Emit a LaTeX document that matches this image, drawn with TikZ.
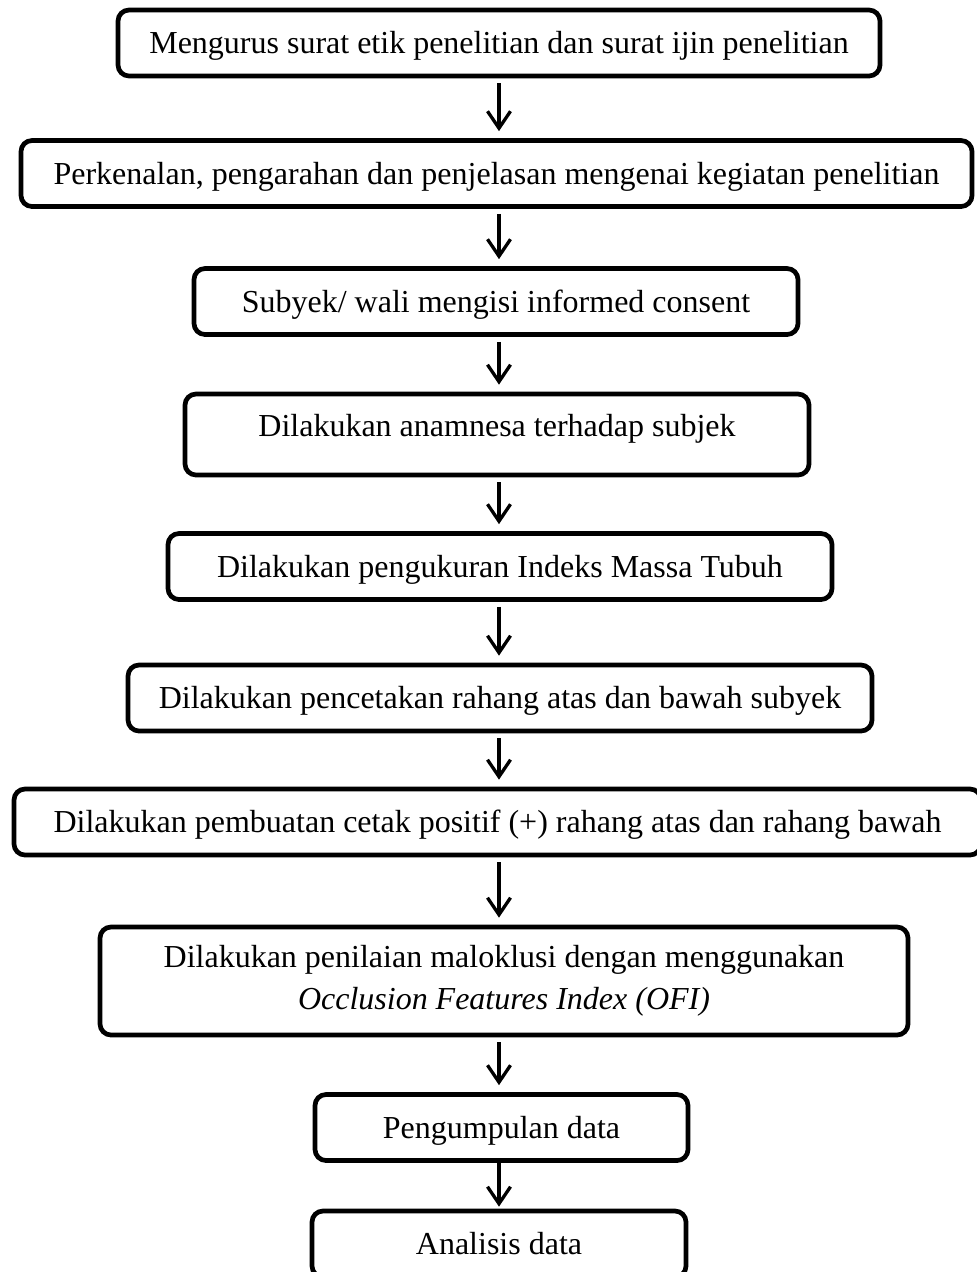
\documentclass[tikz,border=0pt]{standalone}
\usepackage{fontspec}
\setmainfont{Liberation Serif}
\usetikzlibrary{arrows.meta}

\begin{document}
\begin{tikzpicture}[x=1pt,y=-1pt,
        stepbox/.style={draw=black,line width=4.7pt,rounded corners=11pt,inner xsep=4pt,inner ysep=0pt,
            align=center,font=\fontsize{32}{42}\selectfont},
        onebox/.style={stepbox,text height=21pt,text depth=0pt,minimum height=66pt},
        flow/.style={line width=3.3pt,-{Straight Barb[length=17pt,width=23pt]},shorten <=5pt,shorten >=7pt}]
        \useasboundingbox (0,0) rectangle (977,1272);
        \coordinate (ax) at (499,0); % column of the arrows

        \node[onebox,minimum width=762pt] (surat) at (499,43) {Mengurus surat etik penelitian dan surat ijin penelitian};
        \node[onebox,minimum width=951pt] (kenal) at (496.5,173.5) {Perkenalan, pengarahan dan penjelasan mengenai kegiatan penelitian};
        \node[onebox,minimum width=604pt] (consent) at (496,301.5) {Subyek/ wali mengisi informed consent};
        \node[onebox,minimum width=624pt,text depth=18pt,inner ysep=21pt] (anamnesa) at (497,434.5) {Dilakukan anamnesa terhadap subjek};
        \node[onebox,minimum width=664pt] (imt) at (500,566.5) {Dilakukan pengukuran Indeks Massa Tubuh};
        \node[onebox,minimum width=744pt] (cetak) at (500,698) {Dilakukan pencetakan rahang atas dan bawah subyek};
        \node[onebox,minimum width=967pt] (model) at (497.5,822) {Dilakukan pembuatan cetak positif (+) rahang atas dan rahang bawah};
        \node[stepbox,minimum width=808pt,minimum height=108pt] (ofi) at (504,981)
            {Dilakukan penilaian maloklusi dengan menggunakan\\ \textit{Occlusion Features Index (OFI)}};
        \node[onebox,minimum width=373pt] (kumpul) at (501.5,1127.5) {Pengumpulan data};
        \node[onebox,minimum width=374pt] (analisis) at (499,1244) {Analisis data};

        \draw[flow] (surat.south -| ax) -- (kenal.north -| ax);
        \draw[flow] (kenal.south -| ax) -- (consent.north -| ax);
        \draw[flow] (consent.south -| ax) -- (anamnesa.north -| ax);
        \draw[flow] (anamnesa.south -| ax) -- (imt.north -| ax);
        \draw[flow] (imt.south -| ax) -- (cetak.north -| ax);
        \draw[flow] (cetak.south -| ax) -- (model.north -| ax);
        \draw[flow] (model.south -| ax) -- (ofi.north -| ax);
        \draw[flow] (ofi.south -| ax) -- (kumpul.north -| ax);
        \draw[flow,shorten <=0pt,shorten >=2pt] (kumpul.south -| ax) -- (analisis.north -| ax);

    \end{tikzpicture}
\end{document}
